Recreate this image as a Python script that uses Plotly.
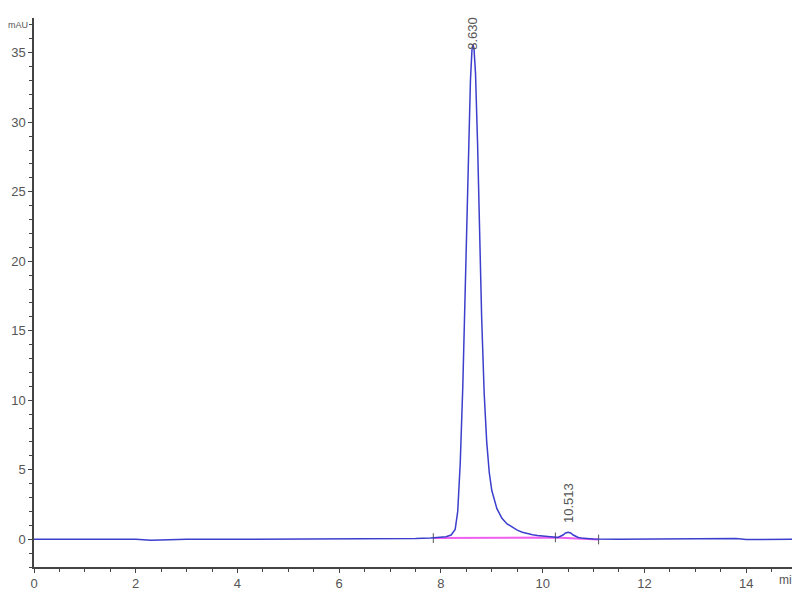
import plotly.graph_objects as go

# chromatogram trace (min, mAU)
time_min = [0, 1, 2, 2.3, 2.6, 3, 4, 5, 6, 7, 7.5, 7.8, 8.0, 8.1, 8.2, 8.28, 8.33,
            8.38, 8.43, 8.48, 8.53, 8.58, 8.61, 8.63, 8.65, 8.68, 8.72, 8.76, 8.8,
            8.85, 8.9, 8.95, 9.0, 9.1, 9.2, 9.3, 9.4, 9.5, 9.6, 9.7, 9.8, 9.9, 10.0,
            10.1, 10.2, 10.3, 10.4, 10.45, 10.5, 10.55, 10.6, 10.7, 10.8, 11, 11.5,
            12, 12.5, 13, 13.5, 13.8, 14, 14.5, 15]
signal_mau = [0.0, 0.0, 0.0, -0.08, -0.05, 0.0, 0.0, 0.0, 0.0, 0.02, 0.05, 0.08, 0.12,
              0.18, 0.3, 0.7, 2.0, 5.5, 11, 19, 27, 33, 35.2, 35.6, 35.3, 33.5, 28.5,
              22, 16, 10.5, 7, 4.8, 3.5, 2.2, 1.5, 1.1, 0.85, 0.65, 0.5, 0.4, 0.32,
              0.26, 0.22, 0.18, 0.14, 0.13, 0.3, 0.45, 0.5, 0.45, 0.3, 0.12, 0.06,
              0.02, 0.0, 0.0, 0.0, 0.0, 0.0, 0.05, -0.03, 0.0, 0.0]

# integration baseline
base_t = [7.85, 10.25, 11.1]
base_y = [0.08, 0.13, -0.02]

# peak labels
peak_t = [8.630, 10.513]
peak_y = [35.1, 1.0]
peak_txt = ["8.630", "10.513"]

font_family = "Liberation Sans, Arial, sans-serif"

fig = go.Figure()
fig.add_trace(go.Scatter(x=base_t, y=base_y, mode="lines+markers",
                         line=dict(color="#f060f0", width=2),
                         marker=dict(symbol="line-ns", size=7,
                                     line=dict(color="#555", width=1))))
fig.add_trace(go.Scatter(x=time_min, y=signal_mau, mode="lines",
                         line=dict(color="#3b3fcc", width=1.5)))

for t, y, s in zip(peak_t, peak_y, peak_txt):
    fig.add_annotation(x=t, y=y, text=s, textangle=-90, showarrow=False,
                       yanchor="bottom", font=dict(size=13, color="#555"))

fig.add_annotation(xref="paper", yref="paper", x=-0.036, y=0.987, text="mAU",
                   showarrow=False, xanchor="left", yanchor="middle", borderpad=0,
                   font=dict(size=9, color="#555"))
fig.add_annotation(xref="paper", yref="paper", x=1.002, y=-0.009, text="min",
                   showarrow=False, xanchor="right", yanchor="top", borderpad=0,
                   font=dict(size=12, color="#555"))

axis_style = dict(showgrid=False, zeroline=False, showline=True, linecolor="#444",
                  linewidth=1.5, ticks="outside", tickcolor="#444", ticklen=4,
                  automargin=False,
                  tickfont=dict(family=font_family, size=13, color="#555"))

fig.update_xaxes(range=[0, 15], tickvals=[0, 2, 4, 6, 8, 10, 12, 14],
                 minor=dict(dtick=0.5, ticks="outside", ticklen=3, tickcolor="#444"),
                 **axis_style)
fig.update_yaxes(range=[-2, 37.5], tickvals=[0, 5, 10, 15, 20, 25, 30, 35],
                 minor=dict(dtick=1, ticks="outside", ticklen=3, tickcolor="#444"),
                 **axis_style)

# page body adds an 8px margin, so the figure is sized to fit the window
fig.update_layout(width=792, height=584, showlegend=False,
                  plot_bgcolor="white", paper_bgcolor="white",
                  margin=dict(l=26, r=3, t=10, b=25),
                  font=dict(family=font_family))

fig.write_html("out.html")
